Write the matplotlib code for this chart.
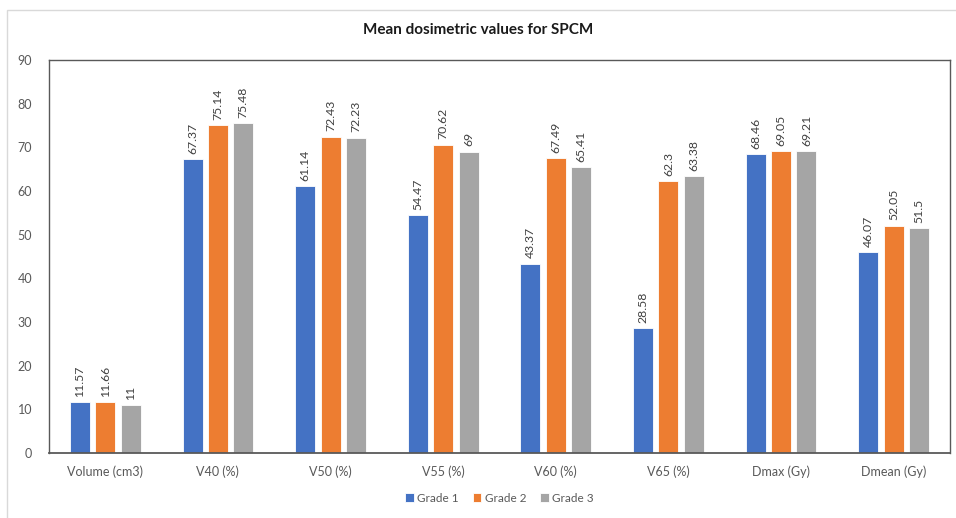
import numpy as np
import matplotlib.pyplot as plt
from matplotlib.patches import Rectangle

plt.rcParams['font.family'] = ['Lato', 'DejaVu Sans']

categories = ["Volume (cm3)", "V40 (%)", "V50 (%)", "V55 (%)", "V60 (%)",
              "V65 (%)", "Dmax (Gy)", "Dmean (Gy)"]
grade1 = [11.57, 67.37, 61.14, 54.47, 43.37, 28.58, 68.46, 46.07]
grade2 = [11.66, 75.14, 72.43, 70.62, 67.49, 62.3, 69.05, 52.05]
grade3 = [11, 75.48, 72.23, 69, 65.41, 63.38, 69.21, 51.5]
series = [("Grade 1", grade1, "#4472C4"),
          ("Grade 2", grade2, "#ED7D31"),
          ("Grade 3", grade3, "#A5A5A5")]

fig = plt.figure(figsize=(9.56, 5.18), dpi=100)
# light outer frame of the chart area
fig.patches.append(Rectangle((7 / 956, -0.01), 1.0, 1 - 10 / 518 + 0.01,
                             transform=fig.transFigure, fill=False,
                             edgecolor="#d9d9d9", linewidth=1.0))

ax = fig.add_axes([49 / 956, 1 - 453 / 518, 901 / 956, 393 / 518])
x = np.arange(len(categories))
width = 0.178
offsets = [-0.225, 0.0, 0.225]

for (name, vals, col), off in zip(series, offsets):
    bars = ax.bar(x + off, vals, width, color=col, label=name,
                  edgecolor="white", linewidth=0.6)
    for b, v in zip(bars, vals):
        ax.text(b.get_x() + b.get_width() / 2, v + 1.2, f"{v:g}",
                rotation=90, ha="center", va="bottom", fontsize=8.8,
                color="#404040")

ax.set_xlim(-0.5, len(categories) - 0.5)
ax.set_ylim(0, 90)
ax.set_yticks(range(0, 91, 10))
ax.set_xticks(x)
ax.set_xticklabels(categories)
ax.tick_params(axis="both", length=0, labelsize=9, colors="#595959")
ax.tick_params(axis="x", pad=9)
ax.tick_params(axis="y", pad=12)
for s in ax.spines.values():
    s.set_color("#595959")
    s.set_linewidth(1.0)
ax.spines["bottom"].set_linewidth(1.3)

fig.text(0.5, 1 - 30 / 518, "Mean dosimetric values for SPCM", ha="center",
         va="center", fontsize=11, fontweight="bold", color="#1a1a1a")

ax.legend(loc="center", bbox_to_anchor=(0.5, -0.115), ncol=3, frameon=False,
          fontsize=8.5, handlelength=0.7, handleheight=0.7, columnspacing=1.2,
          handletextpad=0.3, labelcolor="#595959")

fig.savefig("out.png", dpi=100)
